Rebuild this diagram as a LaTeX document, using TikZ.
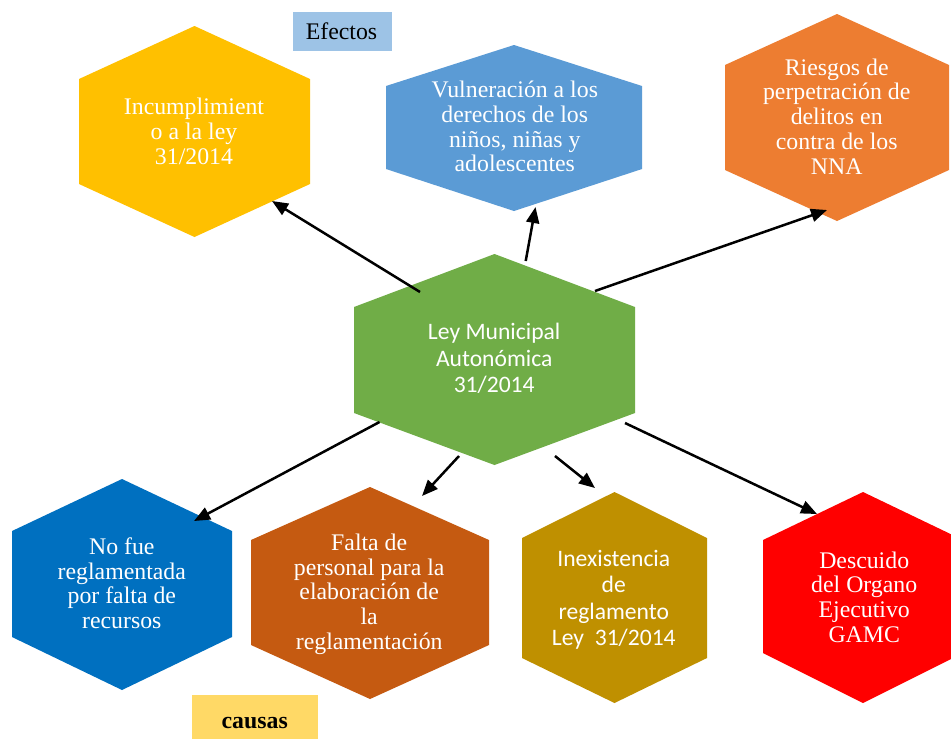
\documentclass[tikz,border=0pt]{standalone}
\usepackage{fontspec}
\setmainfont{Liberation Serif}
\newfontfamily\calfont{Carlito}
\usetikzlibrary{arrows.meta}
\definecolor{cyellow}{HTML}{FFC000}
\definecolor{cbluetop}{HTML}{5B9BD5}
\definecolor{corange}{HTML}{ED7D31}
\definecolor{cgreen}{HTML}{70AD47}
\definecolor{cbluebot}{HTML}{0070C0}
\definecolor{cbrown}{HTML}{C55A11}
\definecolor{cgold}{HTML}{BF9000}
\definecolor{cred}{HTML}{FF0000}
\definecolor{cefbox}{HTML}{9DC3E6}
\definecolor{ccabox}{HTML}{FFD966}
% #1 colour, #2 left x, #3 right x, #4 top y, #5 upper shoulder y, #6 lower shoulder y, #7 bottom y
\newcommand\hexshape[7]{%
  \fill[#1] ({(#2+#3)/2},#4) -- (#3,#5) -- (#3,#6) -- ({(#2+#3)/2},#7) -- (#2,#6) -- (#2,#5) -- cycle;}
\begin{document}
\begin{tikzpicture}[x=0.5pt,y=-0.5pt,
  txt/.style={text=white, align=center, inner sep=0pt,
    font=\fontsize{11.9}{12.35}\selectfont},
  caltxt/.style={text=white, align=center, inner sep=0pt,
    font=\calfont\fontsize{11.8}{13.25}\selectfont},
  lbl/.style={text=black, inner sep=0pt, font=\fontsize{11.9}{12.35}\selectfont},
  arr/.style={line width=1.25pt, -{Triangle[length=8pt,width=6.5pt]}}]
\useasboundingbox (0,0) rectangle (951,740);
\clip (0,0) rectangle (951,740);
\fill[white] (0,0) rectangle (951,740);

% hexagons
\hexshape{cyellow}{79}{310}{26}{79}{184}{237}
\hexshape{cbluetop}{386}{642}{45}{86}{169}{211}
\hexshape{corange}{725}{949}{14}{65}{170}{221}
\hexshape{cgreen}{354}{635}{254}{307}{413}{465}
\hexshape{cbluebot}{12}{232}{479}{531}{637}{690}
\hexshape{cbrown}{251}{489}{487}{540}{645}{699}
\hexshape{cgold}{522}{707}{492}{538}{658}{703}
\hexshape{cred}{763}{963}{492}{540}{653}{703}

% label boxes
\fill[cefbox] (293,12) rectangle (392,51);
\node[lbl] (efectos) at (341.5,31) {Efectos};
\fill[ccabox] (192,695) rectangle (318,739);
\node[lbl, font=\bfseries\fontsize{11.9}{12.35}\selectfont] (causas) at (254.7,722.7) {causas};

% texts
\node[txt] (effA) at (194,131.5) {Incumplimient\\o a la ley\\31/2014};
\node[txt] (effB) at (514.8,126.5) {Vulneración a los\\derechos de los\\niños, niñas y\\adolescentes};
\node[txt] (effC) at (836.7,116.4) {Riesgos de\\perpetración de\\delitos en\\contra de los\\NNA};
\node[caltxt] (ley) at (494.2,358.7) {Ley Municipal\\Autonómica\\31/2014};
\node[txt] (c1) at (121.8,583.2) {No fue\\reglamentada\\por falta de\\recursos};
\node[txt] (c2) at (369.2,594.1) {Falta de\\personal para la\\elaboración de\\la\\reglamentación};
\node[caltxt] (c3) at (613.8,599.6) {Inexistencia\\de\\reglamento\\Ley~~31/2014};
\node[txt] (c4) at (864.2,596.9) {Descuido\\del Organo\\Ejecutivo\\GAMC};

% arrow end points
\coordinate (a1s) at (420,292);   \coordinate (a1e) at (272,201);
\coordinate (a2s) at (525.7,261); \coordinate (a2e) at (535.5,207);
\coordinate (a3s) at (595,291);   \coordinate (a3e) at (827,210);
\coordinate (a4s) at (379.5,422); \coordinate (a4e) at (194,521);
\coordinate (a5s) at (459,456);   \coordinate (a5e) at (422,496);
\coordinate (a6s) at (555,456);   \coordinate (a6e) at (595,488);
\coordinate (a7s) at (625,423);   \coordinate (a7e) at (817,514);

\draw[arr] (a1s) -- (a1e);
\draw[arr] (a2s) -- (a2e);
\draw[arr] (a3s) -- (a3e);
\draw[arr] (a4s) -- (a4e);
\draw[arr] (a5s) -- (a5e);
\draw[arr] (a6s) -- (a6e);
\draw[arr] (a7s) -- (a7e);
\end{tikzpicture}
\end{document}
